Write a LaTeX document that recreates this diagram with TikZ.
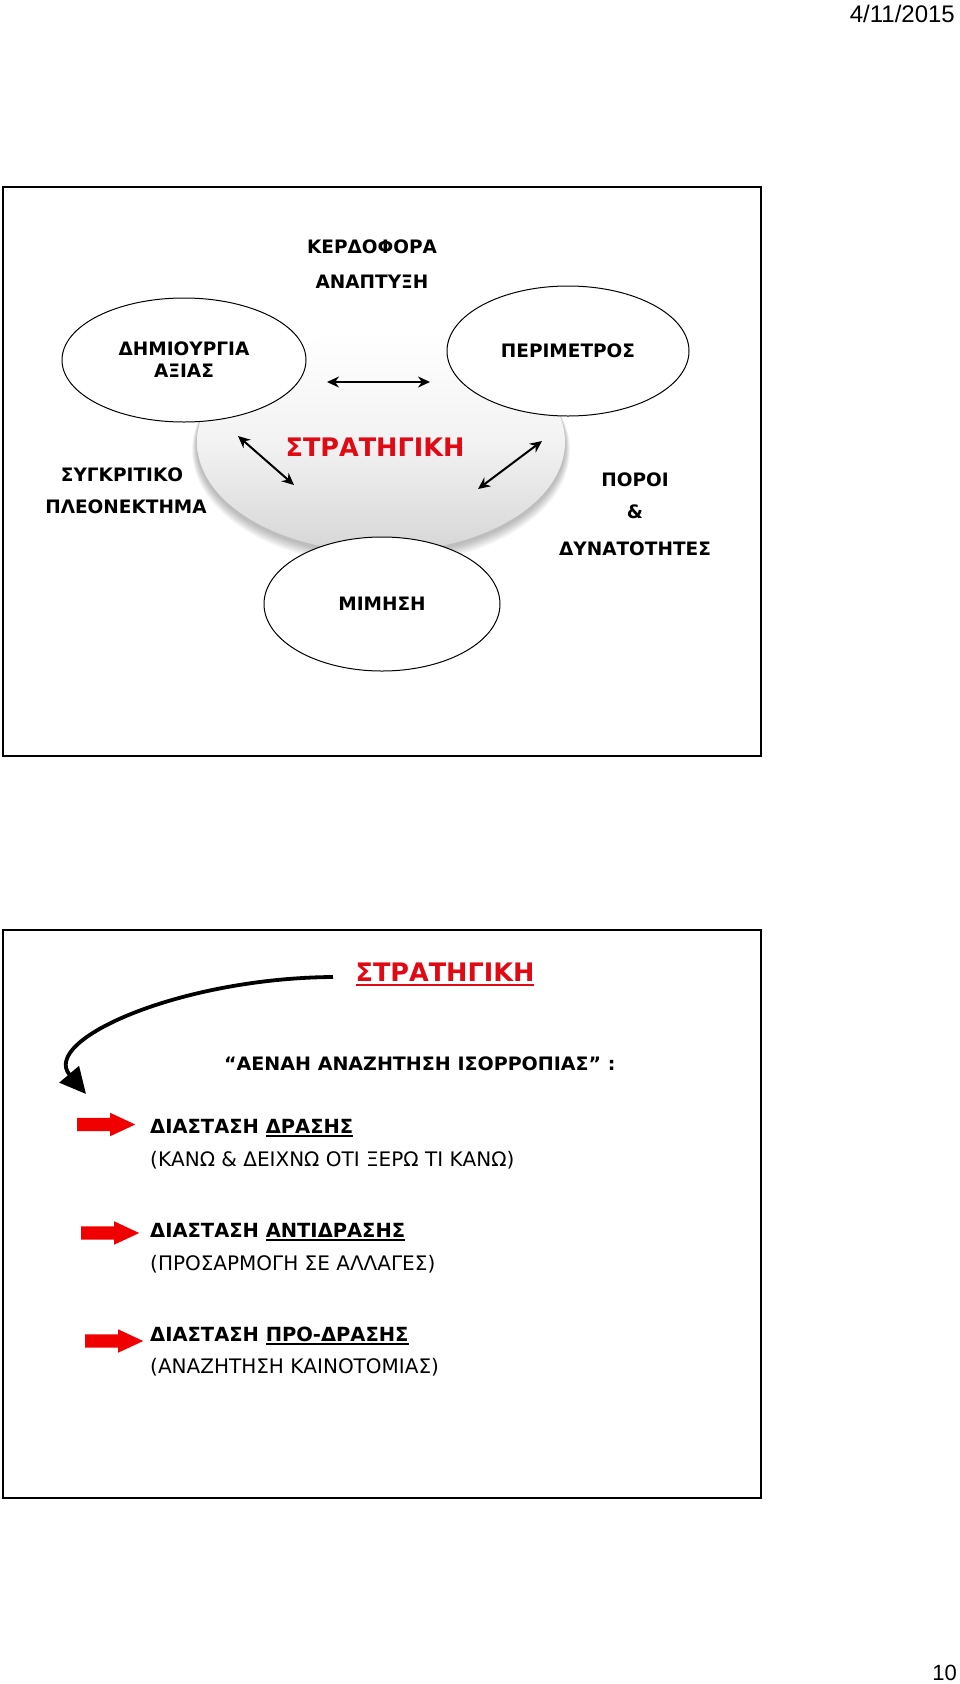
\documentclass[tikz,border=0pt]{standalone}
\usepackage{fontspec}
\setmainfont{DejaVu Sans}
\newfontfamily\arialf{Liberation Sans}
\usetikzlibrary{shapes.geometric,shapes.arrows,arrows.meta}
\definecolor{strred}{RGB}{225,10,20}
\definecolor{arrred}{RGB}{240,0,0}
\newcommand\myul[2][-3.5pt]{\setbox0\hbox{#2}\leavevmode\rlap{\rule[#1]{\wd0}{1.8pt}}\box0}
\begin{document}
\begin{tikzpicture}[x=1pt,y=-1pt,
  lbl/.style={font=\bfseries\fontsize{18.5pt}{22pt}\selectfont, inner sep=0pt, anchor=base},
  ell/.style={draw, line width=1pt, fill=white, ellipse, inner sep=0pt, align=center,
    font=\bfseries\fontsize{18.5pt}{22pt}\selectfont},
  dbl/.style={{Stealth[length=12pt,width=11pt]}-{Stealth[length=12pt,width=11pt]}, line width=2pt},
  panelframe/.style={draw, line width=2pt},
  redarr/.style={single arrow, fill=arrred, draw=none, inner xsep=0pt, inner ysep=6.5pt,
    minimum height=58pt, single arrow head extend=5pt, single arrow tip angle=50, anchor=tail},
  boldline/.style={font=\bfseries\fontsize{19.5pt}{22pt}\selectfont, inner sep=0pt, anchor=base west},
  normline/.style={font=\fontsize{20pt}{22pt}\selectfont, inner sep=0pt, anchor=base west}]
\useasboundingbox (0,0) rectangle (960,1684);
\fill[white] (0,0) rectangle (960,1684);

% header / footer
\node[font=\arialf\fontsize{24pt}{26pt}\selectfont, anchor=base east, inner sep=0pt] (date) at (955,22) {4/11/2015};
\node[font=\arialf\fontsize{22pt}{24pt}\selectfont, anchor=base east, inner sep=0pt] (page) at (957,1680) {10};

% ---------- top panel ----------
\draw[panelframe] (2.5,187) rectangle (761,756);

% shaded central ellipse with soft shadow
\foreach \i in {1,...,7}{
  \fill[black, opacity=0.04] (381,{444+0.9*\i}) ellipse [x radius={184pt+0.7pt*\i}, y radius={110pt+0.7pt*\i}];
}
\node[ellipse, minimum width=368pt, minimum height=220pt, inner sep=0pt,
  top color=white, bottom color=gray!32, middle color=gray!10] (core) at (381,442) {};
\node[font=\bfseries\fontsize{25.5pt}{28pt}\selectfont, text=strred, inner sep=0pt, anchor=base] (strat) at (375,456.5) {ΣΤΡΑΤΗΓΙΚΗ};

\node[ell, minimum width=244pt, minimum height=124pt] (value) at (184,360) {ΔΗΜΙΟΥΡΓΙΑ\\ΑΞΙΑΣ};
\node[ell, minimum width=242pt, minimum height=130pt] (scope) at (568,351) {ΠΕΡΙΜΕΤΡΟΣ};
\node[ell, minimum width=236pt, minimum height=134pt] (mimic) at (382,604) {ΜΙΜΗΣΗ};

\node[lbl] (kerd) at (372,253) {ΚΕΡΔΟΦΟΡΑ};
\node[lbl] (anap) at (372,288) {ΑΝΑΠΤΥΞΗ};
\node[lbl] (sygk) at (122,481) {ΣΥΓΚΡΙΤΙΚΟ};
\node[lbl] (pleo) at (126,513) {ΠΛΕΟΝΕΚΤΗΜΑ};
\node[lbl] (poroi) at (635,486) {ΠΟΡΟΙ};
\node[lbl] (amp) at (635,518) {\&};
\node[lbl] (dyn) at (635,555) {ΔΥΝΑΤΟΤΗΤΕΣ};

\coordinate (h1) at (327,382); \coordinate (h2) at (430,382);
\coordinate (l1) at (238,436); \coordinate (l2) at (294,485);
\coordinate (r1) at (542,441); \coordinate (r2) at (478,489);
\draw[dbl] (h1) -- (h2);
\draw[dbl] (l1) -- (l2);
\draw[dbl] (r1) -- (r2);

% ---------- bottom panel ----------
\draw[panelframe] (2.5,930) rectangle (761,1498);

\node[font=\bfseries\fontsize{25.5pt}{28pt}\selectfont, text=strred, inner sep=0pt, anchor=base] (strat2) at (445,981) {\myul[-4.5pt]{ΣΤΡΑΤΗΓΙΚΗ}};
\node[font=\bfseries\fontsize{18.5pt}{22pt}\selectfont, inner sep=0pt, anchor=base west] (aenah) at (224,1070) {\scalebox{1.03}[1]{“ΑΕΝΑΗ ΑΝΑΖΗΤΗΣΗ ΙΣΟΡΡΟΠΙΑΣ” :}};

\coordinate (cs) at (333,977);
\coordinate (ce) at (86,1094);
\draw[line width=3.8pt, -{Triangle[length=26pt,width=25pt]}] (cs) .. controls (180,978) and (40,1040) .. (ce);

\node[redarr] (a1) at (77,1124.5) {};
\node[redarr] (a2) at (81,1233) {};
\node[redarr] (a3) at (85,1341) {};

\node[boldline] (t1) at (150,1133) {ΔΙΑΣΤΑΣΗ \myul{ΔΡΑΣΗΣ}};
\node[normline] (s1) at (150,1166) {(ΚΑΝΩ \& ΔΕΙΧΝΩ ΟΤΙ ΞΕΡΩ ΤΙ ΚΑΝΩ)};
\node[boldline] (t2) at (150,1237) {ΔΙΑΣΤΑΣΗ \myul{ΑΝΤΙΔΡΑΣΗΣ}};
\node[normline] (s2) at (150,1270) {(ΠΡΟΣΑΡΜΟΓΗ ΣΕ ΑΛΛΑΓΕΣ)};
\node[boldline] (t3) at (150,1341) {ΔΙΑΣΤΑΣΗ \myul{ΠΡΟ-ΔΡΑΣΗΣ}};
\node[normline] (s3) at (150,1373) {(ΑΝΑΖΗΤΗΣΗ ΚΑΙΝΟΤΟΜΙΑΣ)};
\end{tikzpicture}
\end{document}
